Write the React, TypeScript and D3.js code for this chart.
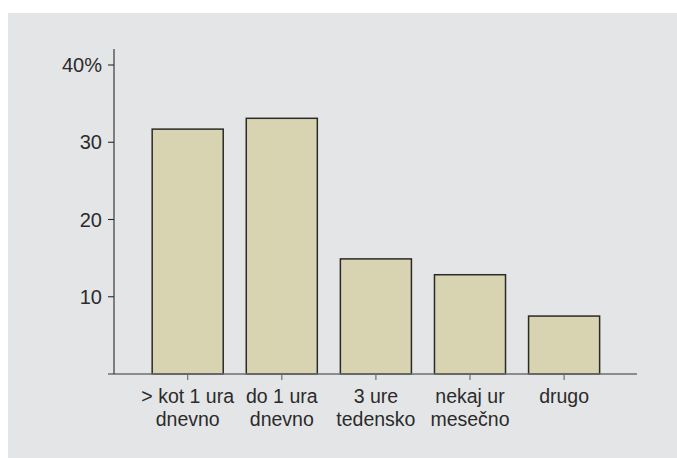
import React from "react";
import * as d3 from "d3";

const categories: string[][] = [
  ["> kot 1 ura", "dnevno"],
  ["do 1 ura", "dnevno"],
  ["3 ure", "tedensko"],
  ["nekaj ur", "mesečno"],
  ["drugo"],
];
const values: number[] = [31.7, 33.1, 14.9, 12.85, 7.5];
const yTicks: number[] = [10, 20, 30, 40];

const W = 677;
const H = 458;

export default function App() {
  const keys = categories.map((_, i) => String(i));
  const x = d3
    .scaleBand<string>()
    .domain(keys)
    .range([140.65, 611.15])
    .paddingInner(0.245)
    .paddingOuter(0.1225);
  const y = d3.scaleLinear().domain([0, 40]).range([374, 65]);

  const font = "'Liberation Sans', Arial, Helvetica, sans-serif";
  const textColor = "#2b2b2b";

  return (
    <svg
      width={W}
      height={H}
      style={{ position: "absolute", left: 0, top: 0, display: "block" }}
    >
      <rect x={0} y={0} width={W} height={H} fill="#fff" />
      <rect x={8} y={13} width={W - 8} height={H - 13} fill="#e4e5e7" />

      {/* bars */}
      {values.map((v, i) => (
        <rect
          key={i}
          x={x(String(i))}
          y={y(v)}
          width={x.bandwidth()}
          height={y(0) - y(v)}
          fill="#d8d3b0"
          stroke="#2a2a2a"
          strokeWidth={1.5}
        />
      ))}

      {/* x axis */}
      <line x1={108} x2={637} y1={y(0)} y2={y(0)} stroke="#6e6e6e" strokeWidth={1.4} />
      {keys.map((k) => {
        const cx = (x(k) as number) + x.bandwidth() / 2;
        return (
          <line key={k} x1={cx} x2={cx} y1={y(0)} y2={y(0) + 6} stroke="#6e6e6e" strokeWidth={1.2} />
        );
      })}
      {categories.map((lines, i) => {
        const cx = (x(String(i)) as number) + x.bandwidth() / 2;
        return (
          <text
            key={i}
            x={cx}
            y={402.7}
            textAnchor="middle"
            fontFamily={font}
            fontSize={19.5}
            fill={textColor}
          >
            {lines.map((l, j) => (
              <tspan key={j} x={cx} dy={j === 0 ? 0 : 23.5}>
                {l}
              </tspan>
            ))}
          </text>
        );
      })}

      {/* y axis */}
      <line x1={114} x2={114} y1={49} y2={y(0)} stroke="#2a2a2a" strokeWidth={1.1} />
      {yTicks.map((t) => (
        <g key={t}>
          <line x1={108} x2={114} y1={y(t)} y2={y(t)} stroke="#2a2a2a" strokeWidth={1.1} />
          <text
            x={102}
            y={y(t) + 7}
            textAnchor="end"
            fontFamily={font}
            fontSize={20}
            fill={textColor}
          >
            {t === 40 ? `${t}%` : t}
          </text>
        </g>
      ))}
    </svg>
  );
}
